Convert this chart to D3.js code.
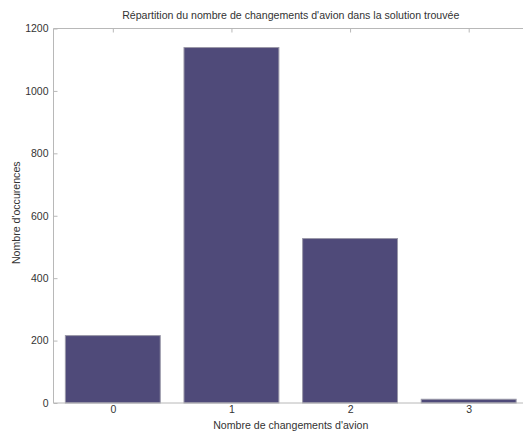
<!DOCTYPE html>
<html><head><meta charset="utf-8">
<script src="https://cdn.jsdelivr.net/npm/d3@7"></script>
<style>
html,body{margin:0;padding:0;background:#fff;}
svg{display:block;}
text{font-family:"Liberation Sans",Arial,Helvetica,sans-serif;fill:#333;}
</style></head>
<body>
<svg id="c" width="523" height="432"></svg>
<script>
const categories = [0, 1, 2, 3];
const counts = [216, 1139, 527, 12];
const yTicks = [0, 200, 400, 600, 800, 1000, 1200];
const title = "Répartition du nombre de changements d'avion dans la solution trouvée";
const xLabel = "Nombre de changements d'avion";
const yLabel = "Nombre d'occurences";

const svg = d3.select("#c");
const L = 53.5, R = 528, T = 28.5, B = 403;
const x = d3.scaleLinear().domain([-0.5, 3.5]).range([L, R]);
const y = d3.scaleLinear().domain([0, 1200]).range([B, T]);
const barW = 0.8;

// bars
svg.append("g").selectAll("rect").data(categories).join("rect")
  .attr("x", d => x(d - barW/2))
  .attr("width", d => x(d + barW/2) - x(d - barW/2))
  .attr("y", (d,i) => y(counts[i]))
  .attr("height", (d,i) => y(0) - y(counts[i]))
  .attr("fill", "#4f4a79")
  .attr("stroke", "#9a98a8")
  .attr("stroke-width", 1);

const axisColor = "#b8b8b8";
// frame lines
svg.append("line").attr("x1", L).attr("x2", R).attr("y1", T).attr("y2", T).attr("stroke", axisColor);
svg.append("line").attr("x1", L).attr("x2", R).attr("y1", B).attr("y2", B).attr("stroke", axisColor);
svg.append("line").attr("x1", L).attr("x2", L).attr("y1", T).attr("y2", B).attr("stroke", axisColor);

// bottom axis
const xb = svg.append("g").attr("transform", `translate(0,${B})`)
  .call(d3.axisBottom(x).tickValues(categories).tickFormat(d3.format("d")).tickSize(0).tickPadding(3));
xb.select(".domain").remove();
xb.selectAll("text").attr("font-size", 10.5).attr("fill", "#333");
// top inward ticks
const xt = svg.append("g").attr("transform", `translate(0,${T})`)
  .call(d3.axisBottom(x).tickValues(categories).tickFormat("").tickSize(4));
xt.select(".domain").remove();
xt.selectAll("line").attr("stroke", axisColor);

// left axis
const yl = svg.append("g").attr("transform", `translate(${L},0)`)
  .call(d3.axisRight(y).tickValues(yTicks).tickFormat(d3.format("d")).tickSize(4));
yl.select(".domain").remove();
yl.selectAll("line").attr("stroke", axisColor);
yl.selectAll("text").attr("x", -5).attr("text-anchor", "end").attr("font-size", 10.5).attr("fill", "#333");

// labels
svg.append("text").attr("x", (L+R)/2).attr("y", 19).attr("text-anchor", "middle")
  .attr("font-size", 10.6).text(title);
svg.append("text").attr("x", (L+R)/2).attr("y", 429).attr("text-anchor", "middle")
  .attr("font-size", 10.6).text(xLabel);
svg.append("text").attr("transform", `translate(20,${(T+B)/2 - 3}) rotate(-90)`).attr("text-anchor", "middle")
  .attr("font-size", 10.6).text(yLabel);
</script>
</body></html>
